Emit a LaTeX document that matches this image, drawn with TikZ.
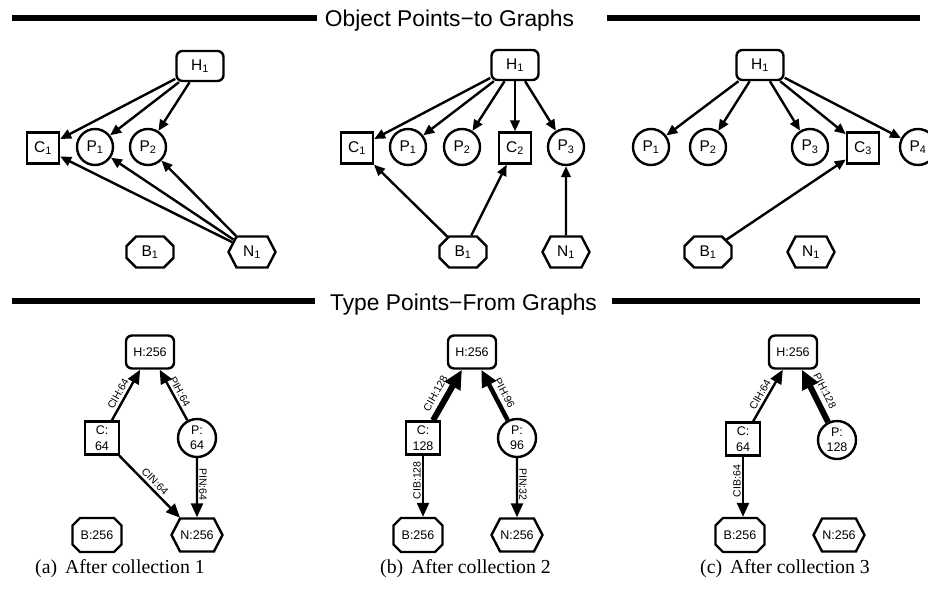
\documentclass[tikz,border=0pt]{standalone}
\usepackage{fontspec}
\setmainfont{Liberation Serif}
\setsansfont{Liberation Sans}
\usetikzlibrary{arrows.meta,shapes.misc,shapes.symbols}

\tikzset{
  % object points-to graph nodes
  graphnode/.style={draw, line width=2.4pt, inner sep=0pt,
    font=\sffamily\fontsize{15.5}{19}\selectfont},
  heapnode/.style={graphnode, rectangle, rounded corners=6pt, minimum width=47pt, minimum height=30pt},
  clsnode/.style={graphnode, rectangle, minimum width=32pt, minimum height=31pt},
  ptrnode/.style={graphnode, circle, minimum size=36pt},
  blknode/.style={graphnode, chamfered rectangle, chamfered rectangle xsep=7pt,
    minimum width=47pt, minimum height=31pt},
  nulnode/.style={graphnode, signal, signal to=east and west, signal pointer angle=125,
    minimum width=47pt, minimum height=31pt},
  % type points-from graph nodes
  typenode/.style={draw, line width=2.4pt, inner sep=0pt, align=center,
    font=\sffamily\fontsize{12.5}{15.5}\selectfont},
  theap/.style={typenode, rectangle, rounded corners=6pt, minimum width=48pt, minimum height=33pt},
  tcls/.style={typenode, rectangle, minimum width=34pt, minimum height=33pt},
  tptr/.style={typenode, circle, minimum size=38pt},
  tblk/.style={typenode, chamfered rectangle, chamfered rectangle xsep=7pt,
    minimum width=49pt, minimum height=34pt},
  tnul/.style={typenode, signal, signal to=east and west, signal pointer angle=125,
    minimum width=51pt, minimum height=33pt},
  % connectors
  pto/.style={line width=2.4pt, -{Triangle[length=11pt,width=9.5pt]}},
  w64/.style={line width=2.4pt, -{Triangle[length=14pt,width=12pt]}},
  w96/.style={line width=4.5pt, -{Triangle[length=17pt,width=15pt]}},
  w128/.style={line width=6pt, -{Triangle[length=19pt,width=17pt]}},
  elabel/.style={font=\sffamily\fontsize{10.5}{12}\selectfont, inner sep=1pt},
  % section rules and captions
  rulebar/.style={line width=6pt},
  heading/.style={font=\sffamily\fontsize{22.8}{26}\selectfont, inner sep=0pt, anchor=base},
  subcap/.style={font=\rmfamily\fontsize{19.8}{23}\selectfont, inner sep=0pt, anchor=base west}
}

\begin{document}
\begin{tikzpicture}[x=1pt, y=-1pt]
\useasboundingbox (0,0) rectangle (928,600);

% ---------- headings ----------
\node[heading] (obj) at (449.5,26.5) {Object Points−to Graphs};
\draw[rulebar] (12,17.5) -- (317,17.5);
\draw[rulebar] (607,17.5) -- (920,17.5);

\node[heading] (typ) at (463.5,310) {Type Points−From Graphs};
\draw[rulebar] (12,301) -- (315,301);
\draw[rulebar] (612,301) -- (920,301);

% ---------- object graph (a) ----------
\node[heapnode] (oa-h)  at (200,66)  {H\textsubscript{1}};
\node[clsnode]  (oa-c1) at (43,148)  {C\textsubscript{1}};
\node[ptrnode]  (oa-p1) at (95,147)  {P\textsubscript{1}};
\node[ptrnode]  (oa-p2) at (148,147) {P\textsubscript{2}};
\node[blknode]  (oa-b1) at (150,252) {B\textsubscript{1}};
\node[nulnode]  (oa-n1) at (252,252) {N\textsubscript{1}};
\draw[pto] (oa-h) -- (oa-c1);
\draw[pto] (oa-h) -- (oa-p1);
\draw[pto] (oa-h) -- (oa-p2);
\draw[pto] (oa-n1) -- (oa-c1);
\draw[pto] (oa-n1) -- (oa-p1);
\draw[pto] (oa-n1) -- (oa-p2);

% ---------- object graph (b) ----------
\node[heapnode] (ob-h)  at (515,65)  {H\textsubscript{1}};
\node[clsnode]  (ob-c1) at (357,148) {C\textsubscript{1}};
\node[ptrnode]  (ob-p1) at (408,147) {P\textsubscript{1}};
\node[ptrnode]  (ob-p2) at (462,147) {P\textsubscript{2}};
\node[clsnode]  (ob-c2) at (515,148) {C\textsubscript{2}};
\node[ptrnode]  (ob-p3) at (566,147) {P\textsubscript{3}};
\node[blknode]  (ob-b1) at (463,252) {B\textsubscript{1}};
\node[nulnode]  (ob-n1) at (566,252) {N\textsubscript{1}};
\draw[pto] (ob-h) -- (ob-c1);
\draw[pto] (ob-h) -- (ob-p1);
\draw[pto] (ob-h) -- (ob-p2);
\draw[pto] (ob-h) -- (ob-c2);
\draw[pto] (ob-h) -- (ob-p3);
\draw[pto] (ob-b1) -- (ob-c1);
\draw[pto] (ob-b1) -- (ob-c2);
\draw[pto] (ob-n1) -- (ob-p3);

% ---------- object graph (c) ----------
\node[heapnode] (oc-h)  at (760,65)  {H\textsubscript{1}};
\node[ptrnode]  (oc-p1) at (651,147) {P\textsubscript{1}};
\node[ptrnode]  (oc-p2) at (708,147) {P\textsubscript{2}};
\node[ptrnode]  (oc-p3) at (810,147) {P\textsubscript{3}};
\node[clsnode]  (oc-c3) at (863,148) {C\textsubscript{3}};
\node[ptrnode]  (oc-p4) at (918,147) {P\textsubscript{4}};
\node[blknode]  (oc-b1) at (708,252) {B\textsubscript{1}};
\node[nulnode]  (oc-n1) at (811,252) {N\textsubscript{1}};
\draw[pto] (oc-h) -- (oc-p1);
\draw[pto] (oc-h) -- (oc-p2);
\draw[pto] (oc-h) -- (oc-p3);
\draw[pto] (oc-h) -- (oc-c3);
\draw[pto] (oc-h) -- (oc-p4);
\draw[pto] (oc-b1) -- (oc-c3);

% ---------- type graph (a) ----------
\node[theap] (ta-h) at (150,352) {H:256};
\node[tcls]  (ta-c) at (102,438) {C:\\64};
\node[tptr]  (ta-p) at (197,438) {P:\\64};
\node[tblk]  (ta-b) at (97,535)  {B:256};
\node[tnul]  (ta-n) at (197,535) {N:256};
\draw[w64] (ta-c) -- node[elabel, sloped, above=1.5pt, pos=0.45] {CIH:64} (ta-h);
\draw[w64] (ta-p) -- node[elabel, sloped, above=1.5pt, pos=0.5] {PIH:64} (ta-h);
\draw[w64] (ta-c) -- node[elabel, sloped, above=1.5pt] {CIN:64} (ta-n);
\draw[w64] (ta-p) -- node[elabel, rotate=-90, anchor=south, yshift=0pt, pos=0.42, xshift=1.5pt] {PIN:64} (ta-n);

% ---------- type graph (b) ----------
\node[theap] (tb-h) at (472,352) {H:256};
\node[tcls]  (tb-c) at (423,438) {C:\\128};
\node[tptr]  (tb-p) at (517,438) {P:\\96};
\node[tblk]  (tb-b) at (418,535) {B:256};
\node[tnul]  (tb-n) at (517,535) {N:256};
\draw[w128] (tb-c) -- node[elabel, sloped, above=3.5pt, pos=0.42] {CIH:128} (tb-h);
\draw[w96]  (tb-p) -- node[elabel, sloped, above=3pt, pos=0.45] {PIH:96} (tb-h);
\draw[w64]  (tb-c.south) -- node[elabel, rotate=90, anchor=south, pos=0.38, xshift=-1.5pt] {CIB:128} (tb-c.south |- tb-b.north);
\draw[w64]  (tb-p) -- node[elabel, rotate=-90, anchor=south, pos=0.42, xshift=1.5pt] {PIN:32} (tb-n);

% ---------- type graph (c) ----------
\node[theap] (tc-h) at (793,352) {H:256};
\node[tcls]  (tc-c) at (743,439) {C:\\64};
\node[tptr]  (tc-p) at (837,440) {P:\\128};
\node[tblk]  (tc-b) at (740,535) {B:256};
\node[tnul]  (tc-n) at (839,535) {N:256};
\draw[w64]  (tc-c) -- node[elabel, sloped, above=1.5pt, pos=0.45] {CIH:64} (tc-h);
\draw[w128] (tc-p) -- node[elabel, sloped, above=3.5pt, pos=0.5] {PIH:128} (tc-h);
\draw[w64]  (tc-c.south) -- node[elabel, rotate=90, anchor=south, pos=0.38, xshift=-1.5pt] {CIB:64} (tc-c.south |- tc-b.north);

% ---------- captions ----------
\node[subcap] (cap-a) at (35,573)  {(a)\hspace{0.4em}After collection 1};
\node[subcap] (cap-b) at (380,573) {(b)\hspace{0.4em}After collection 2};
\node[subcap] (cap-c) at (700,573) {(c)\hspace{0.4em}After collection 3};
\end{tikzpicture}
\end{document}
